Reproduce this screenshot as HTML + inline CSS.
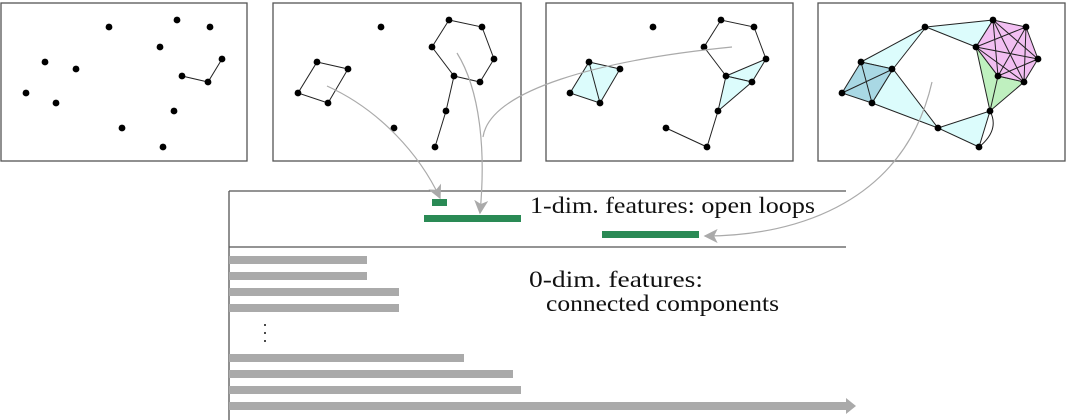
<!DOCTYPE html>
<html><head><meta charset="utf-8"><style>
html,body{margin:0;padding:0;background:#fff;width:1068px;height:420px;overflow:hidden}
svg{display:block}
text{font-family:"Liberation Serif",serif;font-size:23px;fill:#111}
</style></head><body>
<svg width="1068" height="420" viewBox="0 0 1068 420" xmlns="http://www.w3.org/2000/svg">
<defs>
<marker id="ah" viewBox="0 0 10 10" refX="9" refY="5" markerWidth="14" markerHeight="14" markerUnits="userSpaceOnUse" orient="auto"><path d="M0,0 L10,5 L0,10 L2.5,5 z" fill="#aaa"/></marker>
<g id="pts">
<circle cx="109" cy="27" r="3.4"/><circle cx="177" cy="20" r="3.4"/><circle cx="210" cy="27" r="3.4"/>
<circle cx="160" cy="47" r="3.4"/><circle cx="45" cy="62" r="3.4"/><circle cx="76" cy="69" r="3.4"/>
<circle cx="222" cy="59" r="3.4"/><circle cx="182" cy="76" r="3.4"/><circle cx="208" cy="82" r="3.4"/>
<circle cx="26" cy="93" r="3.4"/><circle cx="56" cy="103" r="3.4"/><circle cx="174" cy="111" r="3.4"/>
<circle cx="122" cy="128" r="3.4"/><circle cx="163" cy="147" r="3.4"/>
</g>
</defs>
<g fill="none" stroke="#555" stroke-width="1.3">
<rect x="1" y="3" width="246" height="158"/>
<rect x="273" y="3" width="248" height="158"/>
<rect x="546" y="3" width="247" height="158"/>
<rect x="818" y="3" width="247" height="158"/>
</g>
<g>
<polyline points="182,76 208,82 222,59" fill="none" stroke="#222" stroke-width="1"/>
<use href="#pts"/>
</g>
<g transform="translate(272,0)">
<g fill="none" stroke="#222" stroke-width="1">
<polygon points="177,20 210,27 222,59 208,82 182,76 160,47"/>
<polyline points="182,76 174,111 163,147"/>
<polygon points="45,62 76,69 56,103 26,93"/>
</g>
<use href="#pts"/>
</g>
<g transform="translate(544,0)">
<g fill="#dcfcfc" stroke="#222" stroke-width="1">
<polygon points="45,62 76,69 56,103 26,93"/>
<polygon points="182,76 222,59 208,82"/>
<polygon points="182,76 208,82 174,111"/>
</g>
<g fill="none" stroke="#222" stroke-width="1">
<line x1="45" y1="62" x2="56" y2="103"/>
<polyline points="182,76 160,47 177,20 210,27 222,59"/>
<polyline points="174,111 163,147 122,128"/>
</g>
<use href="#pts"/>
</g>
<g transform="translate(816,0)">
<g fill="#dcfcfc" stroke="#222" stroke-width="1">
<polygon points="45,62 110,27 77,69"/>
<polygon points="110,27 177,20 160,47"/>
<polygon points="77,69 56,103 122,128"/>
<polygon points="122,128 174,111 163,147"/>
</g>
<polygon points="45,62 77,69 56,103 26,93" fill="#a9d8e4" stroke="#222" stroke-width="1"/>
<polygon points="160,47 174,111 208,82 182,76" fill="#bff0bf" stroke="#222" stroke-width="1"/>
<polygon points="177,20 210,27 222,59 208,82 182,76 160,47" fill="#f0b4f0" fill-opacity="0.85" stroke="#222" stroke-width="1"/>
<g fill="none" stroke="#222" stroke-width="1">
<line x1="45" y1="62" x2="56" y2="103"/><line x1="77" y1="69" x2="26" y2="93"/>
<line x1="177" y1="20" x2="222" y2="59"/><line x1="177" y1="20" x2="208" y2="82"/><line x1="177" y1="20" x2="182" y2="76"/>
<line x1="210" y1="27" x2="208" y2="82"/><line x1="210" y1="27" x2="182" y2="76"/><line x1="210" y1="27" x2="160" y2="47"/>
<line x1="222" y1="59" x2="182" y2="76"/><line x1="222" y1="59" x2="160" y2="47"/>
<line x1="208" y1="82" x2="160" y2="47"/>
<line x1="174" y1="111" x2="182" y2="76"/>
<path d="M174,111 Q184,130 163,147"/>
</g>
<use href="#pts"/>
</g>
<g stroke="#555" stroke-width="1.3">
<line x1="229" y1="191" x2="229" y2="420"/>
<line x1="229" y1="191" x2="846" y2="191"/>
<line x1="229" y1="247" x2="846" y2="247"/>
</g>
<g fill="#2a8a55">
<rect x="432" y="199" width="15" height="7"/>
<rect x="424" y="215" width="97" height="7"/>
<rect x="602" y="231" width="97" height="7"/>
</g>
<g fill="#aaa">
<rect x="229" y="256" width="138" height="8"/>
<rect x="229" y="272" width="138" height="8"/>
<rect x="229" y="288" width="170" height="8"/>
<rect x="229" y="304" width="170" height="8"/>
<rect x="229" y="354" width="235" height="8"/>
<rect x="229" y="370" width="284" height="8"/>
<rect x="229" y="386" width="292" height="8"/>
<rect x="229" y="402" width="618" height="8"/>
<polygon points="846,398 856,406 846,414"/>
</g>
<g fill="#111"><circle cx="265" cy="325" r="1"/><circle cx="265" cy="333" r="1"/><circle cx="265" cy="341" r="1"/></g>
<text x="530" y="213" textLength="285" lengthAdjust="spacingAndGlyphs">1-dim. features: open loops</text>
<text x="529" y="287" textLength="174" lengthAdjust="spacingAndGlyphs">0-dim. features:</text>
<text x="546" y="311" textLength="233" lengthAdjust="spacingAndGlyphs">connected components</text>
<g fill="none" stroke="#aaa" stroke-width="1.2">
<path d="M327,86 C380,110 420,155 440,198" marker-end="url(#ah)"/>
<path d="M457,53 C480,90 486,150 480,213" marker-end="url(#ah)"/>
<path d="M732,47 C600,60 490,90 483,137"/>
<path d="M932,82 C905,200 800,236 705,236" marker-end="url(#ah)"/>
</g>
</svg>
</body></html>
